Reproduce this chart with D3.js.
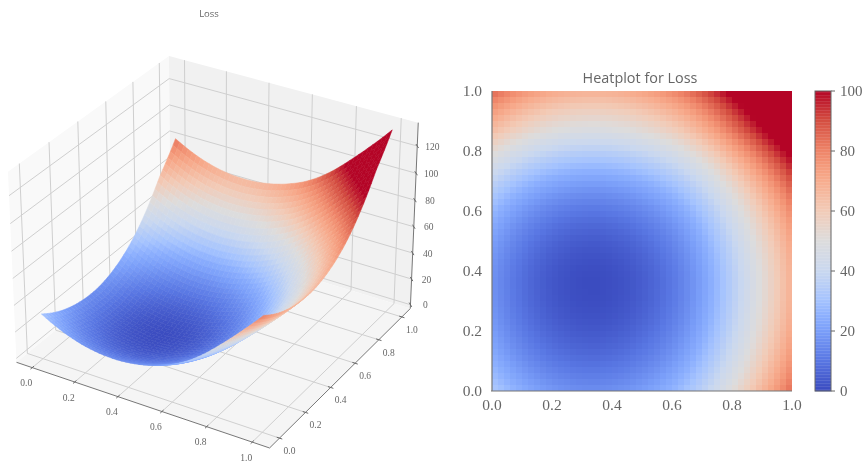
<!DOCTYPE html>
<html>
<head>
<meta charset="utf-8">
<script src="https://cdn.jsdelivr.net/npm/d3@7"></script>
<style>
  html, body { margin: 0; background: #fff; }
  svg { display: block; filter: blur(0.35px); }
  text { fill: #666; font-family: "Liberation Serif", serif; }
</style>
</head>
<body>
<div id="chart"></div>
<script>
var tickValues = [0, 0.2, 0.4, 0.6, 0.8, 1];
var zTicks = [0, 20, 40, 60, 80, 100, 120];
var barTicks = [0, 20, 40, 60, 80, 100];
var cmapStops = [0, 0.1, 0.2, 0.25, 0.3, 0.4, 0.5, 0.6, 0.7, 0.75, 0.8, 0.9, 1];
var cmapColors = ['#3b4cc0', '#5977e3', '#7b9ff9', '#8db0fe', '#a5c3fe', '#cad8ef', '#dddcdc', '#f2cbb7', '#f7ac8e', '#f49a7b', '#ee8468', '#d44e41', '#b40426'];

// loss, rows go from y=0 up to y=1
var loss = [
  [31,29.1,27.3,25.6,24.1,22.6,21.3,20.1,19.1,18.1,17.3,16.6,16.1,15.6,15.3,15.1,15,15,15.2,15.5,15.9,16.4,17,17.7,18.6,19.5,20.6,21.8,23.1,24.5,26.1,27.9,29.9,32,34.3,36.8,39.4,42.2,45.2,48.2,51.4,54.5,57.8,61,64.4,67.8,71.2,74.7,78.3,82],
  [29.3,27.4,25.6,23.9,22.4,20.9,19.6,18.4,17.4,16.4,15.6,14.9,14.4,13.9,13.6,13.4,13.3,13.3,13.5,13.8,14.2,14.7,15.3,16,16.9,17.8,18.9,20.1,21.4,22.8,24.4,26.2,28.2,30.3,32.6,35.1,37.7,40.5,43.5,46.5,49.7,52.8,56.1,59.3,62.7,66.1,69.5,73,76.6,80.3],
  [27.7,25.8,24,22.3,20.8,19.3,18,16.8,15.8,14.8,14,13.3,12.8,12.3,12,11.8,11.7,11.7,11.9,12.2,12.6,13.1,13.7,14.4,15.3,16.2,17.3,18.5,19.8,21.2,22.8,24.6,26.6,28.7,31,33.5,36.1,38.9,41.9,44.9,48.1,51.2,54.5,57.7,61.1,64.5,67.9,71.4,75,78.7],
  [26.2,24.3,22.5,20.8,19.3,17.8,16.5,15.3,14.3,13.3,12.5,11.8,11.3,10.8,10.5,10.3,10.2,10.2,10.4,10.7,11.1,11.6,12.2,12.9,13.8,14.7,15.8,17,18.3,19.7,21.3,23.1,25.1,27.2,29.5,32,34.6,37.4,40.4,43.4,46.6,49.7,53,56.2,59.6,63,66.4,69.9,73.5,77.2],
  [24.8,22.9,21.1,19.4,17.9,16.4,15.1,13.9,12.9,11.9,11.1,10.4,9.9,9.4,9.1,8.9,8.8,8.8,9,9.3,9.7,10.2,10.8,11.5,12.4,13.3,14.4,15.6,16.9,18.3,19.9,21.7,23.7,25.8,28.1,30.6,33.2,36,39,42,45.2,48.3,51.6,54.8,58.2,61.6,65,68.5,72.1,75.8],
  [23.5,21.6,19.8,18.1,16.6,15.1,13.8,12.6,11.6,10.6,9.8,9.1,8.6,8.1,7.8,7.6,7.5,7.5,7.7,8,8.4,8.9,9.5,10.2,11.1,12,13.1,14.3,15.6,17,18.6,20.4,22.4,24.5,26.8,29.3,31.9,34.7,37.7,40.7,43.9,47,50.3,53.5,56.9,60.3,63.7,67.2,70.8,74.5],
  [22.3,20.4,18.6,16.9,15.4,13.9,12.6,11.4,10.4,9.4,8.6,7.9,7.4,6.9,6.6,6.4,6.3,6.3,6.5,6.8,7.2,7.7,8.3,9,9.9,10.8,11.9,13.1,14.4,15.8,17.4,19.2,21.2,23.3,25.6,28.1,30.7,33.5,36.5,39.5,42.7,45.8,49.1,52.3,55.7,59.1,62.5,66,69.6,73.3],
  [21.2,19.3,17.5,15.8,14.3,12.8,11.5,10.3,9.3,8.3,7.5,6.8,6.3,5.8,5.5,5.3,5.2,5.2,5.4,5.7,6.1,6.6,7.2,7.9,8.8,9.7,10.8,12,13.3,14.7,16.3,18.1,20.1,22.2,24.5,27,29.6,32.4,35.4,38.4,41.6,44.7,48,51.2,54.6,58,61.4,64.9,68.5,72.2],
  [20.3,18.4,16.6,14.9,13.4,11.9,10.6,9.4,8.4,7.4,6.6,5.9,5.4,4.9,4.6,4.4,4.3,4.3,4.5,4.8,5.2,5.7,6.3,7,7.9,8.8,9.9,11.1,12.4,13.8,15.4,17.2,19.2,21.3,23.6,26.1,28.7,31.5,34.5,37.5,40.7,43.8,47.1,50.3,53.7,57.1,60.5,64,67.6,71.3],
  [19.4,17.5,15.7,14,12.5,11,9.7,8.5,7.5,6.5,5.7,5,4.5,4,3.7,3.5,3.4,3.4,3.6,3.9,4.3,4.8,5.4,6.1,7,7.9,9,10.2,11.5,12.9,14.5,16.3,18.3,20.4,22.7,25.2,27.8,30.6,33.6,36.6,39.8,42.9,46.2,49.4,52.8,56.2,59.6,63.1,66.7,70.4],
  [18.6,16.7,14.9,13.2,11.7,10.2,8.9,7.7,6.7,5.7,4.9,4.2,3.7,3.2,2.9,2.7,2.6,2.6,2.8,3.1,3.5,4,4.6,5.3,6.2,7.1,8.2,9.4,10.7,12.1,13.7,15.5,17.5,19.6,21.9,24.4,27,29.8,32.8,35.8,39,42.1,45.4,48.6,52,55.4,58.8,62.3,65.9,69.6],
  [17.9,16,14.2,12.5,11,9.5,8.2,7,6,5,4.2,3.5,3,2.5,2.2,2,1.9,1.9,2.1,2.4,2.8,3.3,3.9,4.6,5.5,6.4,7.5,8.7,10,11.4,13,14.8,16.8,18.9,21.2,23.7,26.3,29.1,32.1,35.1,38.3,41.4,44.7,47.9,51.3,54.7,58.1,61.6,65.2,68.9],
  [17.3,15.4,13.6,11.9,10.4,8.9,7.6,6.4,5.4,4.4,3.6,2.9,2.4,1.9,1.6,1.4,1.3,1.3,1.5,1.8,2.2,2.7,3.3,4,4.9,5.8,6.9,8.1,9.4,10.8,12.4,14.2,16.2,18.3,20.6,23.1,25.7,28.5,31.5,34.5,37.7,40.8,44.1,47.3,50.7,54.1,57.5,61,64.6,68.3],
  [16.9,15,13.2,11.5,10,8.5,7.2,6,5,4,3.2,2.5,2,1.5,1.2,1,0.9,0.9,1.1,1.4,1.8,2.3,2.9,3.6,4.5,5.4,6.5,7.7,9,10.4,12,13.8,15.8,17.9,20.2,22.7,25.3,28.1,31.1,34.1,37.3,40.4,43.7,46.9,50.3,53.7,57.1,60.6,64.2,67.9],
  [16.5,14.6,12.8,11.1,9.6,8.1,6.8,5.6,4.6,3.6,2.8,2.1,1.6,1.1,0.8,0.6,0.5,0.5,0.7,1,1.4,1.9,2.5,3.2,4.1,5,6.1,7.3,8.6,10,11.6,13.4,15.4,17.5,19.8,22.3,24.9,27.7,30.7,33.7,36.9,40,43.3,46.5,49.9,53.3,56.7,60.2,63.8,67.5],
  [16.2,14.3,12.5,10.8,9.3,7.8,6.5,5.3,4.3,3.3,2.5,1.8,1.3,0.8,0.5,0.3,0.2,0.2,0.4,0.7,1.1,1.6,2.2,2.9,3.8,4.7,5.8,7,8.3,9.7,11.3,13.1,15.1,17.2,19.5,22,24.6,27.4,30.4,33.4,36.6,39.7,43,46.2,49.6,53,56.4,59.9,63.5,67.2],
  [16.1,14.2,12.4,10.7,9.2,7.7,6.4,5.2,4.2,3.2,2.4,1.7,1.2,0.7,0.4,0.2,0.1,0.1,0.3,0.6,1,1.5,2.1,2.8,3.7,4.6,5.7,6.9,8.2,9.6,11.2,13,15,17.1,19.4,21.9,24.5,27.3,30.3,33.3,36.5,39.6,42.9,46.1,49.5,52.9,56.3,59.8,63.4,67.1],
  [16,14.1,12.3,10.6,9.1,7.6,6.3,5.1,4.1,3.1,2.3,1.6,1.1,0.6,0.3,0.1,0,0,0.2,0.5,0.9,1.4,2,2.7,3.6,4.5,5.6,6.8,8.1,9.5,11.1,12.9,14.9,17,19.3,21.8,24.4,27.2,30.2,33.2,36.4,39.5,42.8,46,49.4,52.8,56.2,59.7,63.3,67],
  [16,14.1,12.3,10.6,9.1,7.6,6.3,5.1,4.1,3.1,2.3,1.6,1.1,0.6,0.3,0.1,0,0,0.2,0.5,0.9,1.4,2,2.7,3.6,4.5,5.6,6.8,8.1,9.5,11.1,12.9,14.9,17,19.3,21.8,24.4,27.2,30.2,33.2,36.4,39.5,42.8,46,49.4,52.8,56.2,59.7,63.3,67],
  [16.2,14.3,12.5,10.8,9.3,7.8,6.5,5.3,4.3,3.3,2.5,1.8,1.3,0.8,0.5,0.3,0.2,0.2,0.4,0.7,1.1,1.6,2.2,2.9,3.8,4.7,5.8,7,8.3,9.7,11.3,13.1,15.1,17.2,19.5,22,24.6,27.4,30.4,33.4,36.6,39.7,43,46.2,49.6,53,56.4,59.9,63.5,67.2],
  [16.5,14.6,12.8,11.1,9.6,8.1,6.8,5.6,4.6,3.6,2.8,2.1,1.6,1.1,0.8,0.6,0.5,0.5,0.7,1,1.4,1.9,2.5,3.2,4.1,5,6.1,7.3,8.6,10,11.6,13.4,15.4,17.5,19.8,22.3,24.9,27.7,30.7,33.7,36.9,40,43.3,46.5,49.9,53.3,56.7,60.2,63.8,67.5],
  [17,15.1,13.3,11.6,10.1,8.6,7.3,6.1,5.1,4.1,3.3,2.6,2.1,1.6,1.3,1.1,1,1,1.2,1.5,1.9,2.4,3,3.7,4.6,5.5,6.6,7.8,9.1,10.5,12.1,13.9,15.9,18,20.3,22.8,25.4,28.2,31.2,34.2,37.4,40.5,43.8,47,50.4,53.8,57.2,60.7,64.3,68],
  [17.6,15.7,13.9,12.2,10.7,9.2,7.9,6.7,5.7,4.7,3.9,3.2,2.7,2.2,1.9,1.7,1.6,1.6,1.8,2.1,2.5,3,3.6,4.3,5.2,6.1,7.2,8.4,9.7,11.1,12.7,14.5,16.5,18.6,20.9,23.4,26,28.8,31.8,34.8,38,41.1,44.4,47.6,51,54.4,57.8,61.3,64.9,68.6],
  [18.3,16.4,14.6,12.9,11.4,9.9,8.6,7.4,6.4,5.4,4.6,3.9,3.4,2.9,2.6,2.4,2.3,2.3,2.5,2.8,3.2,3.7,4.3,5,5.9,6.8,7.9,9.1,10.4,11.8,13.4,15.2,17.2,19.3,21.6,24.1,26.7,29.5,32.5,35.5,38.7,41.8,45.1,48.3,51.7,55.1,58.5,62,65.6,69.3],
  [19.1,17.2,15.4,13.7,12.2,10.7,9.4,8.2,7.2,6.2,5.4,4.7,4.2,3.7,3.4,3.2,3.1,3.1,3.3,3.6,4,4.5,5.1,5.8,6.7,7.6,8.7,9.9,11.2,12.6,14.2,16,18,20.1,22.4,24.9,27.5,30.3,33.3,36.3,39.5,42.6,45.9,49.1,52.5,55.9,59.3,62.8,66.4,70.1],
  [20.1,18.2,16.4,14.7,13.2,11.7,10.4,9.2,8.2,7.2,6.4,5.7,5.2,4.7,4.4,4.2,4.1,4.1,4.3,4.6,5,5.5,6.1,6.8,7.7,8.6,9.7,10.9,12.2,13.6,15.2,17,19,21.1,23.4,25.9,28.5,31.3,34.3,37.3,40.5,43.6,46.9,50.1,53.5,56.9,60.3,63.8,67.4,71.1],
  [21.2,19.3,17.5,15.8,14.3,12.8,11.5,10.3,9.3,8.3,7.5,6.8,6.3,5.8,5.5,5.3,5.2,5.2,5.4,5.7,6.1,6.6,7.2,7.9,8.8,9.7,10.8,12,13.3,14.7,16.3,18.1,20.1,22.2,24.5,27,29.6,32.4,35.4,38.4,41.6,44.7,48,51.2,54.6,58,61.4,64.9,68.5,72.2],
  [22.4,20.5,18.7,17,15.5,14,12.7,11.5,10.5,9.5,8.7,8,7.5,7,6.7,6.5,6.4,6.4,6.6,6.9,7.3,7.8,8.4,9.1,10,10.9,12,13.2,14.5,15.9,17.5,19.3,21.3,23.4,25.7,28.2,30.8,33.6,36.6,39.6,42.8,45.9,49.2,52.4,55.8,59.2,62.6,66.1,69.7,73.4],
  [23.8,21.9,20.1,18.4,16.9,15.4,14.1,12.9,11.9,10.9,10.1,9.4,8.9,8.4,8.1,7.9,7.8,7.8,8,8.3,8.7,9.2,9.8,10.5,11.4,12.3,13.4,14.6,15.9,17.3,18.9,20.7,22.7,24.8,27.1,29.6,32.2,35,38,41,44.2,47.3,50.6,53.8,57.2,60.6,64,67.5,71.1,74.8],
  [25.4,23.5,21.7,20,18.5,17,15.7,14.5,13.5,12.5,11.7,11,10.5,10,9.7,9.5,9.4,9.4,9.6,9.9,10.3,10.8,11.4,12.1,13,13.9,15,16.2,17.5,18.9,20.5,22.3,24.3,26.4,28.7,31.2,33.8,36.6,39.6,42.6,45.8,48.9,52.2,55.4,58.8,62.2,65.6,69.1,72.7,76.4],
  [27,25.1,23.3,21.6,20.1,18.6,17.3,16.1,15.1,14.1,13.3,12.6,12.1,11.6,11.3,11.1,11,11,11.2,11.5,11.9,12.4,13,13.7,14.6,15.5,16.6,17.8,19.1,20.5,22.1,23.9,25.9,28,30.3,32.8,35.4,38.2,41.2,44.2,47.4,50.5,53.8,57,60.4,63.8,67.2,70.7,74.3,78],
  [28.9,27,25.2,23.5,22,20.5,19.2,18,17,16,15.2,14.5,14,13.5,13.2,13,12.9,12.9,13.1,13.4,13.8,14.3,14.9,15.6,16.5,17.4,18.5,19.7,21,22.4,24,25.8,27.8,29.9,32.2,34.7,37.3,40.1,43.1,46.1,49.3,52.4,55.7,58.9,62.3,65.7,69.1,72.6,76.2,79.9],
  [30.9,29,27.2,25.5,24,22.5,21.2,20,19,18,17.2,16.5,16,15.5,15.2,15,14.9,14.9,15.1,15.4,15.8,16.3,16.9,17.6,18.5,19.4,20.5,21.7,23,24.4,26,27.8,29.8,31.9,34.2,36.7,39.3,42.1,45.1,48.1,51.3,54.4,57.7,60.9,64.3,67.7,71.1,74.6,78.2,81.9],
  [33.1,31.2,29.4,27.7,26.2,24.7,23.4,22.2,21.2,20.2,19.4,18.7,18.2,17.7,17.4,17.2,17.1,17.1,17.3,17.6,18,18.5,19.1,19.8,20.7,21.6,22.7,23.9,25.2,26.6,28.2,30,32,34.1,36.4,38.9,41.5,44.3,47.3,50.3,53.5,56.6,59.9,63.1,66.5,69.9,73.3,76.8,80.4,84.1],
  [35.4,33.5,31.7,30,28.5,27,25.7,24.5,23.5,22.5,21.7,21,20.5,20,19.7,19.5,19.4,19.4,19.6,19.9,20.3,20.8,21.4,22.1,23,23.9,25,26.2,27.5,28.9,30.5,32.3,34.3,36.4,38.7,41.2,43.8,46.6,49.6,52.6,55.8,58.9,62.2,65.4,68.8,72.2,75.6,79.1,82.7,86.4],
  [38,36.1,34.3,32.6,31.1,29.6,28.3,27.1,26.1,25.1,24.3,23.6,23.1,22.6,22.3,22.1,22,22,22.2,22.5,22.9,23.4,24,24.7,25.6,26.5,27.6,28.8,30.1,31.5,33.1,34.9,36.9,39,41.3,43.8,46.4,49.2,52.2,55.2,58.4,61.5,64.8,68,71.4,74.8,78.2,81.7,85.3,89],
  [40.7,38.8,37,35.3,33.8,32.3,31,29.8,28.8,27.8,27,26.3,25.8,25.3,25,24.8,24.7,24.7,24.9,25.2,25.6,26.1,26.7,27.4,28.3,29.2,30.3,31.5,32.8,34.2,35.8,37.6,39.6,41.7,44,46.5,49.1,51.9,54.9,57.9,61.1,64.2,67.5,70.7,74.1,77.5,80.9,84.4,88,91.7],
  [43.6,41.7,39.9,38.2,36.7,35.2,33.9,32.7,31.7,30.7,29.9,29.2,28.7,28.2,27.9,27.7,27.6,27.6,27.8,28.1,28.5,29,29.6,30.3,31.2,32.1,33.2,34.4,35.7,37.1,38.7,40.5,42.5,44.6,46.9,49.4,52,54.8,57.8,60.8,64,67.1,70.4,73.6,77,80.4,83.8,87.3,90.9,94.6],
  [46.6,44.7,42.9,41.2,39.7,38.2,36.9,35.7,34.7,33.7,32.9,32.2,31.7,31.2,30.9,30.7,30.6,30.6,30.8,31.1,31.5,32,32.6,33.3,34.2,35.1,36.2,37.4,38.7,40.1,41.7,43.5,45.5,47.6,49.9,52.4,55,57.8,60.8,63.8,67,70.1,73.4,76.6,80,83.4,86.8,90.3,93.9,97.6],
  [49.8,47.9,46.1,44.4,42.9,41.4,40.1,38.9,37.9,36.9,36.1,35.4,34.9,34.4,34.1,33.9,33.8,33.8,34,34.3,34.7,35.2,35.8,36.5,37.4,38.3,39.4,40.6,41.9,43.3,44.9,46.7,48.7,50.8,53.1,55.6,58.2,61,64,67,70.2,73.3,76.6,79.8,83.2,86.6,90,93.5,97.1,100.8],
  [53.2,51.3,49.5,47.8,46.3,44.8,43.5,42.3,41.3,40.3,39.5,38.8,38.3,37.8,37.5,37.3,37.2,37.2,37.4,37.7,38.1,38.6,39.2,39.9,40.8,41.7,42.8,44,45.3,46.7,48.3,50.1,52.1,54.2,56.5,59,61.6,64.4,67.4,70.4,73.6,76.7,80,83.2,86.6,90,93.4,96.9,100.5,104.2],
  [56.7,54.8,53,51.3,49.8,48.3,47,45.8,44.8,43.8,43,42.3,41.8,41.3,41,40.8,40.7,40.7,40.9,41.2,41.6,42.1,42.7,43.4,44.3,45.2,46.3,47.5,48.8,50.2,51.8,53.6,55.6,57.7,60,62.5,65.1,67.9,70.9,73.9,77.1,80.2,83.5,86.7,90.1,93.5,96.9,100.4,104,107.7],
  [60.3,58.4,56.6,54.9,53.4,51.9,50.6,49.4,48.4,47.4,46.6,45.9,45.4,44.9,44.6,44.4,44.3,44.3,44.5,44.8,45.2,45.7,46.3,47,47.9,48.8,49.9,51.1,52.4,53.8,55.4,57.2,59.2,61.3,63.6,66.1,68.7,71.5,74.5,77.5,80.7,83.8,87.1,90.3,93.7,97.1,100.5,104,107.6,111.3],
  [63.9,62,60.2,58.5,57,55.5,54.2,53,52,51,50.2,49.5,49,48.5,48.2,48,47.9,47.9,48.1,48.4,48.8,49.3,49.9,50.6,51.5,52.4,53.5,54.7,56,57.4,59,60.8,62.8,64.9,67.2,69.7,72.3,75.1,78.1,81.1,84.3,87.4,90.7,93.9,97.3,100.7,104.1,107.6,111.2,114.9],
  [66.8,64.9,63.1,61.4,59.9,58.4,57.1,55.9,54.9,53.9,53.1,52.4,51.9,51.4,51.1,50.9,50.8,50.8,51,51.3,51.7,52.2,52.8,53.5,54.4,55.3,56.4,57.6,58.9,60.3,61.9,63.7,65.7,67.8,70.1,72.6,75.2,78,81,84,87.2,90.3,93.6,96.8,100.2,103.6,107,110.5,114.1,117.8],
  [69.9,68,66.2,64.5,63,61.5,60.2,59,58,57,56.2,55.5,55,54.5,54.2,54,53.9,53.9,54.1,54.4,54.8,55.3,55.9,56.6,57.5,58.4,59.5,60.7,62,63.4,65,66.8,68.8,70.9,73.2,75.7,78.3,81.1,84.1,87.1,90.3,93.4,96.7,99.9,103.3,106.7,110.1,113.6,117.2,120.9],
  [73,71.1,69.3,67.6,66.1,64.6,63.3,62.1,61.1,60.1,59.3,58.6,58.1,57.6,57.3,57.1,57,57,57.2,57.5,57.9,58.4,59,59.7,60.6,61.5,62.6,63.8,65.1,66.5,68.1,69.9,71.9,74,76.3,78.8,81.4,84.2,87.2,90.2,93.4,96.5,99.8,103,106.4,109.8,113.2,116.7,120.3,124],
  [76.2,74.3,72.5,70.8,69.3,67.8,66.5,65.3,64.3,63.3,62.5,61.8,61.3,60.8,60.5,60.3,60.2,60.2,60.4,60.7,61.1,61.6,62.2,62.9,63.8,64.7,65.8,67,68.3,69.7,71.3,73.1,75.1,77.2,79.5,82,84.6,87.4,90.4,93.4,96.6,99.7,103,106.2,109.6,113,116.4,119.9,123.5,127.2],
  [79.5,77.6,75.8,74.1,72.6,71.1,69.8,68.6,67.6,66.6,65.8,65.1,64.6,64.1,63.8,63.6,63.5,63.5,63.7,64,64.4,64.9,65.5,66.2,67.1,68,69.1,70.3,71.6,73,74.6,76.4,78.4,80.5,82.8,85.3,87.9,90.7,93.7,96.7,99.9,103,106.3,109.5,112.9,116.3,119.7,123.2,126.8,130.5],
  [83,81.1,79.3,77.6,76.1,74.6,73.3,72.1,71.1,70.1,69.3,68.6,68.1,67.6,67.3,67.1,67,67,67.2,67.5,67.9,68.4,69,69.7,70.6,71.5,72.6,73.8,75.1,76.5,78.1,79.9,81.9,84,86.3,88.8,91.4,94.2,97.2,100.2,103.4,106.5,109.8,113,116.4,119.8,123.2,126.7,130.3,134]
];

var w = 862, h = 464, n = loss.length;
var svg = d3.select('#chart').append('svg').attr('width', w).attr('height', h);
var color = d3.scaleLinear().domain(cmapStops).range(cmapColors).interpolate(d3.interpolateRgb).clamp(true);
var barColor = function (v) { return color(v / 100); };

// ---- 3d panel
var gridIndex = d3.scaleLinear().domain([0, n - 1]).range([0, 1]);
var xWorld = d3.scaleLinear().domain([-0.075, 1.075]).range([-0.5715, 0.5715]);
var yWorld = d3.scaleLinear().domain([-0.075, 1.075]).range([-0.5715, 0.5715]);
var zWorld = d3.scaleLinear().domain([-3, 137]).range([-0.41, 0.41]);
var dist = 10;

function project(x, y, z) {
  var dx = xWorld(x), dy = yWorld(y), dz = zWorld(z);
  var u = 0.858 * dx + 0.515 * dy;
  var v = -0.25 * dx + 0.42 * dy + 0.866 * dz;
  var depth = dist - (0.433 * dx - 0.75 * dy + 0.5 * dz);
  return [216.9 + 256 * u * dist / depth, 242.75 - 265 * v * dist / depth, depth];
}

var x0 = xWorld.domain()[0], x1 = xWorld.domain()[1];
var y0 = yWorld.domain()[0], y1 = yWorld.domain()[1];
var z0 = zWorld.domain()[0], z1 = zWorld.domain()[1];
var g3 = svg.append('g');
var line3 = function (a, b, stroke, width) {
  var p = project(a[0], a[1], a[2]), q = project(b[0], b[1], b[2]);
  g3.append('line').attr('x1', p[0]).attr('y1', p[1]).attr('x2', q[0]).attr('y2', q[1])
    .attr('stroke', stroke).attr('stroke-width', width);
};
var pane = function (pts, fill) {
  g3.append('polygon').attr('fill', fill)
    .attr('points', pts.map(function (c) { return project(c[0], c[1], c[2]).slice(0, 2).join(','); }).join(' '));
};
pane([[x0, y0, z0], [x0, y1, z0], [x0, y1, z1], [x0, y0, z1]], '#f9f9f9');
pane([[x0, y1, z0], [x1, y1, z0], [x1, y1, z1], [x0, y1, z1]], '#f1f1f1');
pane([[x0, y0, z0], [x1, y0, z0], [x1, y1, z0], [x0, y1, z0]], '#f5f5f5');

var gridColor = '#cfcfcf';
tickValues.forEach(function (t) {
  line3([t, y0, z0], [t, y1, z0], gridColor, 1);
  line3([t, y1, z0], [t, y1, z1], gridColor, 1);
  line3([x0, t, z0], [x1, t, z0], gridColor, 1);
  line3([x0, t, z0], [x0, t, z1], gridColor, 1);
});
zTicks.forEach(function (t) {
  line3([x0, y0, t], [x0, y1, t], gridColor, 1);
  line3([x0, y1, t], [x1, y1, t], gridColor, 1);
});

line3([x0, y0, z0], [x1, y0, z0], '#777', 1);
line3([x1, y0, z0], [x1, y1, z0], '#777', 1);
line3([x1, y1, z0], [x1, y1, z1], '#777', 1);

tickValues.forEach(function (t) {
  line3([t, y0 - 0.012, z0], [t, y0 + 0.012, z0], '#666', 1);
  line3([x1 - 0.012, t, z0], [x1 + 0.012, t, z0], '#666', 1);
  var p = project(t, y0, z0);
  g3.append('text').attr('x', p[0] - 6).attr('y', p[1] + 18.5).attr('text-anchor', 'middle')
    .attr('font-size', 9.5).text(d3.format('.1f')(t));
  var q = project(x1, t, z0);
  g3.append('text').attr('x', q[0] + 10).attr('y', q[1] + 16).attr('text-anchor', 'middle')
    .attr('font-size', 9.5).text(d3.format('.1f')(t));
});
zTicks.forEach(function (t) {
  var p = project(x1, y1, t);
  line3([x1 - 0.012, y1 + 0.012, t], [x1 + 0.012, y1 - 0.012, t], '#666', 1);
  g3.append('text').attr('x', p[0] + 15).attr('y', p[1] + 3.5).attr('text-anchor', 'middle')
    .attr('font-size', 9.5).text(t);
});

var facets = [];
loss.forEach(function (row, j) {
  if (j === n - 1) return;
  row.forEach(function (v, i) {
    if (i === n - 1) return;
    var a = project(gridIndex(i), gridIndex(j), loss[j][i]),
      b = project(gridIndex(i + 1), gridIndex(j), loss[j][i + 1]),
      c = project(gridIndex(i + 1), gridIndex(j + 1), loss[j + 1][i + 1]),
      d = project(gridIndex(i), gridIndex(j + 1), loss[j + 1][i]);
    facets.push({
      pts: [a, b, c, d],
      depth: (a[2] + b[2] + c[2] + d[2]) / 4,
      value: (loss[j][i] + loss[j][i + 1] + loss[j + 1][i + 1] + loss[j + 1][i]) / 4
    });
  });
});
facets.sort(function (p, q) { return q.depth - p.depth; });
g3.selectAll('polygon.facet').data(facets).enter().append('polygon')
  .attr('class', 'facet')
  .attr('points', function (d) { return d.pts.map(function (p) { return p[0] + ',' + p[1]; }).join(' '); })
  .attr('fill', function (d) { return barColor(d.value); })
  .attr('stroke', function (d) { return barColor(d.value); })
  .attr('stroke-width', 0.5);

g3.append('text').attr('x', 209).attr('y', 17).attr('text-anchor', 'middle')
  .attr('font-size', 9.5).style('font-family', '"Open Sans", sans-serif').text('Loss');

// ---- heatmap panel
var hx = d3.scaleLinear().domain([0, 1]).range([492, 792]);
var hy = d3.scaleLinear().domain([0, 1]).range([391, 91]);
var cellX = d3.scaleBand().domain(d3.range(n)).range([492, 792]);
var cellY = d3.scaleBand().domain(d3.range(n)).range([391, 91]);
var gh = svg.append('g');
loss.forEach(function (row, j) {
  gh.selectAll('rect.r' + j).data(row).enter().append('rect')
    .attr('class', 'r' + j)
    .attr('x', function (d, i) { return cellX(i); })
    .attr('y', cellY(j))
    .attr('width', cellX.bandwidth())
    .attr('height', cellY.bandwidth())
    .attr('fill', function (d) { return barColor(d); })
    .attr('shape-rendering', 'crispEdges');
});
gh.append('line').attr('x1', 492).attr('x2', 492).attr('y1', 91).attr('y2', 391).attr('stroke', '#777').attr('stroke-width', 1.2);
gh.append('line').attr('x1', 491).attr('x2', 792).attr('y1', 391).attr('y2', 391).attr('stroke', '#777').attr('stroke-width', 1.2);

tickValues.forEach(function (t) {
  gh.append('text').attr('x', hx(t)).attr('y', 410).attr('text-anchor', 'middle').attr('font-size', 15.5).text(d3.format('.1f')(t));
  gh.append('text').attr('x', 482).attr('y', hy(t) + 5).attr('text-anchor', 'end').attr('font-size', 15.5).text(d3.format('.1f')(t));
});
gh.append('text').attr('x', 640).attr('y', 83).attr('text-anchor', 'middle').attr('font-size', 14.4)
  .style('font-family', '"Open Sans", sans-serif').text('Heatplot for Loss');

// ---- colourbar
var barY = d3.scaleLinear().domain([0, 100]).range([391, 91]);
var gb = svg.append('g');
gb.selectAll('rect').data(d3.range(0, 100, 0.5)).enter().append('rect')
  .attr('x', 815).attr('width', 16)
  .attr('y', function (d) { return barY(d + 0.5); })
  .attr('height', barY(0) - barY(0.5) + 0.3)
  .attr('fill', function (d) { return barColor(d); });
gb.append('rect').attr('x', 815).attr('y', 91).attr('width', 16).attr('height', 300)
  .attr('fill', 'none').attr('stroke', '#666').attr('stroke-width', 1);
barTicks.forEach(function (t) {
  gb.append('line').attr('x1', 831).attr('x2', 835).attr('y1', barY(t)).attr('y2', barY(t)).attr('stroke', '#666');
  gb.append('text').attr('x', 840).attr('y', barY(t) + 5).attr('font-size', 15).text(t);
});
</script>
</body>
</html>
